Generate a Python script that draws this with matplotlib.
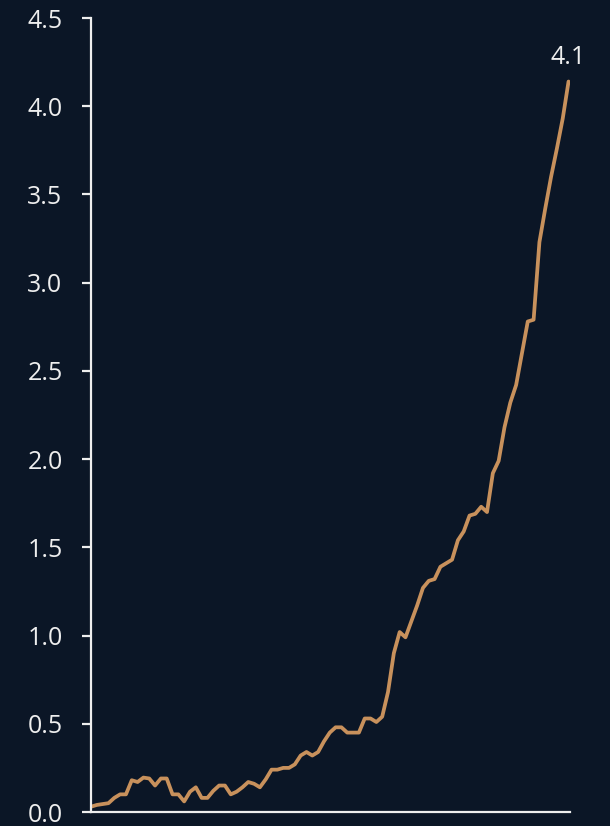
import matplotlib
matplotlib.use("Agg")
import matplotlib.pyplot as plt

values = [
    0.03, 0.04, 0.045, 0.05, 0.08, 0.10, 0.10, 0.18, 0.17, 0.195,
    0.19, 0.15, 0.19, 0.19, 0.10, 0.10, 0.06, 0.115, 0.14, 0.08,
    0.08, 0.12, 0.15, 0.15, 0.10, 0.115, 0.14, 0.17, 0.16, 0.14,
    0.185, 0.24, 0.24, 0.25, 0.25, 0.27, 0.32, 0.34, 0.32, 0.34,
    0.40, 0.45, 0.48, 0.48, 0.45, 0.45, 0.45, 0.53, 0.53, 0.51,
    0.54, 0.68, 0.90, 1.02, 0.99, 1.08, 1.17, 1.27, 1.31, 1.32,
    1.39, 1.41, 1.43, 1.54, 1.59, 1.68, 1.69, 1.73, 1.70, 1.92,
    1.99, 2.18, 2.32, 2.42, 2.60, 2.78, 2.79, 3.23, 3.42, 3.60,
    3.76, 3.93, 4.14,
]
x = list(range(len(values)))
yticks = [0.0, 0.5, 1.0, 1.5, 2.0, 2.5, 3.0, 3.5, 4.0, 4.5]
end_label = "4.1"

bg = "#0b1626"
fg = "#eeeeee"
line_color = "#c8915c"

plt.rcParams["font.family"] = ["Open Sans", "DejaVu Sans"]

fig = plt.figure(figsize=(6.10, 8.26), dpi=100, facecolor=bg)
ax = fig.add_axes([91/610, 1 - 812/826, (570 - 91)/610, (812 - 18)/826])
ax.set_facecolor(bg)

ax.plot(x, values, color=line_color, lw=2.7, solid_joinstyle="round", solid_capstyle="round")
ax.annotate(end_label, (x[-1], values[-1]), xytext=(0, 8), textcoords="offset points",
            ha="center", va="bottom", color=fg, fontsize=18)

ax.set_xlim(0, len(values) - 1 + 0.25)
ax.set_ylim(0, 4.5)
ax.set_yticks(yticks)
ax.set_yticklabels([f"{v:.1f}" for v in yticks])
ax.set_xticks([])

for s in ["top", "right"]:
    ax.spines[s].set_visible(False)
for s in ["left", "bottom"]:
    ax.spines[s].set_color(fg)
    ax.spines[s].set_linewidth(1.6)

ax.tick_params(axis="y", colors=fg, labelcolor=fg, length=6.5, width=1.6,
               direction="out", pad=14, labelsize=18)

fig.savefig("out.png", dpi=100, facecolor=bg)
